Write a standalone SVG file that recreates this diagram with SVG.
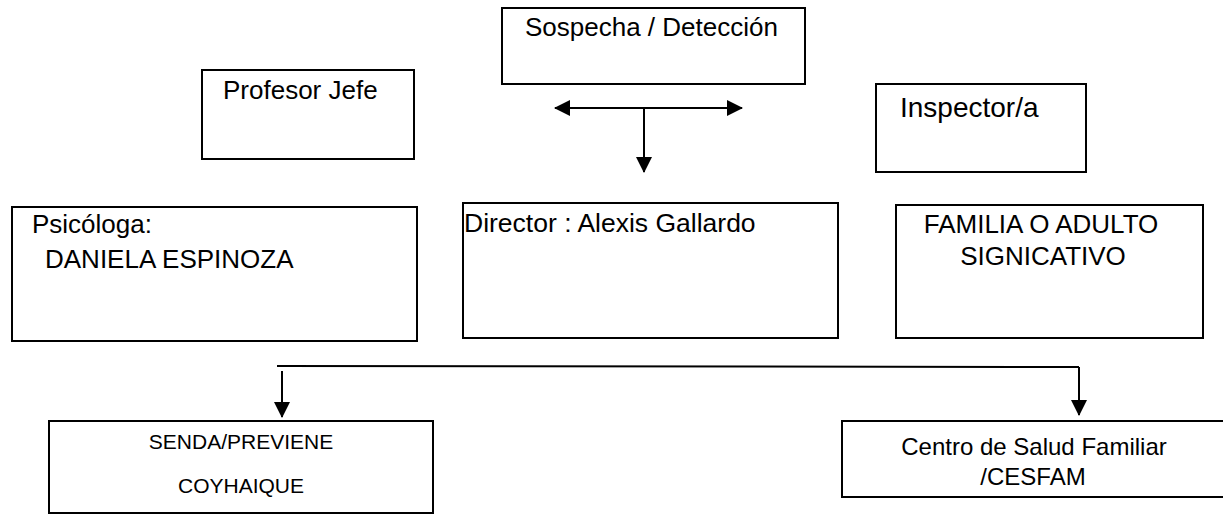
<svg xmlns="http://www.w3.org/2000/svg" width="1223" height="514" viewBox="0 0 1223 514">
<style>
.box{fill:#fff;stroke:#000;stroke-width:2}
.ln{fill:none;stroke:#000;stroke-width:2}
text{font-family:"Liberation Sans",Arial,sans-serif;fill:#000}
</style>
<defs>
<marker id="ah" viewBox="0 0 16 16" refX="15" refY="8" markerWidth="16" markerHeight="16" markerUnits="userSpaceOnUse" orient="auto-start-reverse">
<path d="M0,0 L16,8 L0,16 Z" fill="#000"/>
</marker>
</defs>
<rect width="1223" height="514" fill="#fff"/>
<g id="sospecha">
<rect class="box" x="502" y="8" width="303" height="76"/>
<text x="525" y="36" font-size="26">Sospecha / Detección</text>
</g>
<g id="profesor">
<rect class="box" x="202" y="70" width="212" height="89"/>
<text x="223" y="99" font-size="26">Profesor Jefe</text>
</g>
<g id="inspector">
<rect class="box" x="876" y="84" width="210" height="88"/>
<text x="900" y="117" font-size="28">Inspector/a</text>
</g>
<g id="psicologa">
<rect class="box" x="12" y="207" width="405" height="134"/>
<text x="32" y="233" font-size="26">Psicóloga:</text>
<text x="45" y="268" font-size="26">DANIELA ESPINOZA</text>
</g>
<g id="director">
<rect class="box" x="463" y="203" width="375" height="135"/>
<text x="464" y="232" font-size="26.5">Director : Alexis Gallardo</text>
</g>
<g id="familia">
<rect class="box" x="896" y="205" width="307" height="133"/>
<text x="1041" y="233" font-size="26" text-anchor="middle">FAMILIA O ADULTO</text>
<text x="1043" y="265" font-size="26" text-anchor="middle">SIGNICATIVO</text>
</g>
<g id="senda">
<rect class="box" x="49" y="421" width="384" height="92"/>
<text x="241" y="449" font-size="21" text-anchor="middle">SENDA/PREVIENE</text>
<text x="241" y="493" font-size="21" text-anchor="middle">COYHAIQUE</text>
</g>
<g id="cesfam">
<rect class="box" x="842" y="421" width="390" height="76"/>
<text x="1034" y="455" font-size="24" text-anchor="middle">Centro de Salud Familiar</text>
<text x="1033" y="485" font-size="24" text-anchor="middle">/CESFAM</text>
</g>
<g id="connectors">
<line class="ln" x1="555" y1="108" x2="742" y2="108" marker-start="url(#ah)" marker-end="url(#ah)"/>
<line class="ln" x1="644" y1="108" x2="644" y2="172" marker-end="url(#ah)"/>
<line class="ln" x1="277" y1="366" x2="1079" y2="367"/>
<line class="ln" x1="282" y1="371" x2="282" y2="417" marker-end="url(#ah)"/>
<line class="ln" x1="1079" y1="367" x2="1079" y2="415" marker-end="url(#ah)"/>
</g>
</svg>
